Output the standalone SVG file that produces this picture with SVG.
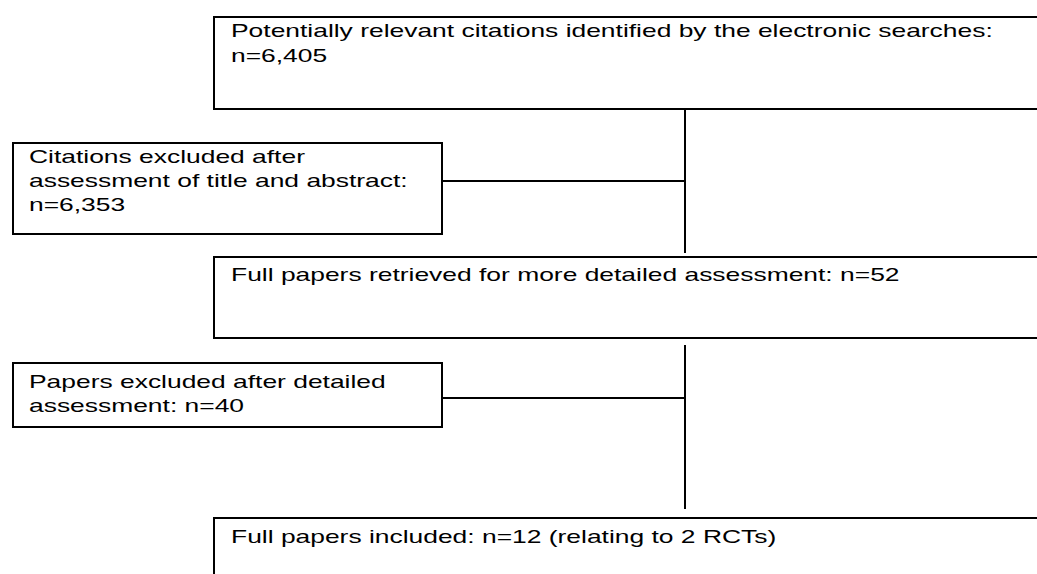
<svg xmlns="http://www.w3.org/2000/svg" width="1037" height="574" viewBox="0 0 1037 574">
<style>
.box{fill:#fff;stroke:#000;stroke-width:2}
.t{font-family:"Liberation Sans",Arial,sans-serif;font-size:19px;fill:#000}
.c{stroke:#000;stroke-width:2;fill:none}
</style>
<rect width="1037" height="574" fill="#fff"/>
<g id="connectors">
<line class="c" x1="685" y1="109" x2="685" y2="253"/>
<line class="c" x1="442" y1="181" x2="685" y2="181"/>
<line class="c" x1="685" y1="345" x2="685" y2="509"/>
<line class="c" x1="442" y1="398" x2="685" y2="398"/>
</g>
<g id="n1">
<rect class="box" x="214" y="17" width="840" height="92"/>
<text class="t" transform="translate(231 37) scale(1.39 1)">Potentially relevant citations identified by the electronic searches:</text>
<text class="t" transform="translate(231 62) scale(1.39 1)">n=6,405</text>
</g>
<g id="n2">
<rect class="box" x="13" y="143" width="429" height="91"/>
<text class="t" transform="translate(29 163) scale(1.39 1)">Citations excluded after</text>
<text class="t" transform="translate(29 187) scale(1.39 1)">assessment of title and abstract:</text>
<text class="t" transform="translate(29 211) scale(1.39 1)">n=6,353</text>
</g>
<g id="n3">
<rect class="box" x="214" y="257" width="840" height="81"/>
<text class="t" transform="translate(231 281) scale(1.39 1)">Full papers retrieved for more detailed assessment: n=52</text>
</g>
<g id="n4">
<rect class="box" x="13" y="363" width="429" height="64"/>
<text class="t" transform="translate(29 388) scale(1.39 1)">Papers excluded after detailed</text>
<text class="t" transform="translate(29 412) scale(1.39 1)">assessment: n=40</text>
</g>
<g id="n5">
<rect class="box" x="214" y="518" width="840" height="80"/>
<text class="t" transform="translate(231 543) scale(1.39 1)">Full papers included: n=12 (relating to 2 RCTs)</text>
</g>
</svg>
